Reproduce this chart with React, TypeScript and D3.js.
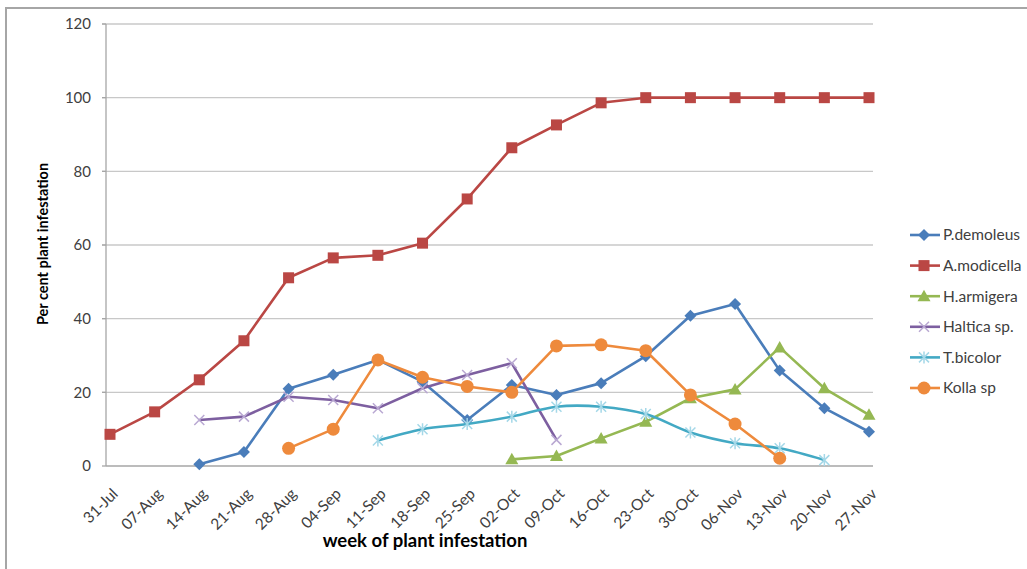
import React from "react";
import * as d3 from "d3";

const weeks = ["31-Jul","07-Aug","14-Aug","21-Aug","28-Aug","04-Sep","11-Sep","18-Sep","25-Sep","02-Oct","09-Oct","16-Oct","23-Oct","30-Oct","06-Nov","13-Nov","20-Nov","27-Nov"];
const yTicks = [0, 20, 40, 60, 80, 100, 120];

const pDemoleus = [null, null, 0.5, 3.8, 21, 24.8, 28.8, 22.9, 12.5, 22, 19.3, 22.5, 29.8, 40.8, 44, 25.9, 15.7, 9.3];
const aModicella = [8.6, 14.7, 23.4, 34, 51.1, 56.5, 57.2, 60.5, 72.5, 86.4, 92.6, 98.6, 100, 100, 100, 100, 100, 100];
const hArmigera = [null, null, null, null, null, null, null, null, null, 1.8, 2.7, 7.5, 12, 18.4, 20.8, 32.2, 21.1, 13.9];
const haltica = [null, null, 12.5, 13.4, 18.8, 17.9, 15.7, 21.1, 24.7, 27.9, 7.1, null, null, null, null, null, null, null];
const tBicolor = [null, null, null, null, null, null, 6.9, 10, 11.4, 13.4, 16.1, 16.1, 14.1, 9.1, 6.2, 4.8, 1.6, null];
const kolla = [null, null, null, null, 4.8, 10, 28.8, 24.1, 21.6, 20, 32.6, 32.9, 31.3, 19.3, 11.4, 2.1, null, null];

const seriesNames = ["P.demoleus", "A.modicella", "H.armigera", "Haltica sp.", "T.bicolor", "Kolla sp"];
const seriesValues = [pDemoleus, aModicella, hArmigera, haltica, tBicolor, kolla];
const seriesColors = ["#4A7DBA", "#BA4744", "#95B853", "#7D5FA0", "#43A9C4", "#EE8A3C"];
const markerColors = ["#4A7DBA", "#BA4744", "#95B853", "#B9A8D2", "#A5D8E8", "#EE8A3C"];
const markerTypes = ["diamond", "square", "triangle", "x", "asterisk", "circle"];
const smooth = [false, false, false, false, true, false];

const FONT = "Lato, 'Open Sans', sans-serif";

function Marker({ type, x, y, color }: { type: string; x: number; y: number; color: string }) {
  switch (type) {
    case "diamond":
      return <path d={`M${x},${y - 6}L${x + 6},${y}L${x},${y + 6}L${x - 6},${y}Z`} fill={color} />;
    case "square":
      return <rect x={x - 5.5} y={y - 5.5} width={11} height={11} fill={color} />;
    case "triangle":
      return <path d={`M${x},${y - 6.5}L${x + 6.5},${y + 5}L${x - 6.5},${y + 5}Z`} fill={color} />;
    case "x":
      return <path d={`M${x - 5},${y - 5}L${x + 5},${y + 5}M${x - 5},${y + 5}L${x + 5},${y - 5}`} stroke={color} strokeWidth={1.5} fill="none" />;
    case "asterisk":
      return <path d={`M${x - 5},${y - 5}L${x + 5},${y + 5}M${x - 5},${y + 5}L${x + 5},${y - 5}M${x},${y - 6}L${x},${y + 6}`} stroke={color} strokeWidth={1.5} fill="none" />;
    case "circle":
    default:
      return <circle cx={x} cy={y} r={6.5} fill={color} />;
  }
}

export default function App() {
  const x = d3.scalePoint<string>().domain(weeks).range([110, 869]);
  const y = d3.scaleLinear().domain([0, 120]).range([466, 24]);
  const plotLeft = 106;
  const plotRight = 873;

  return (
    <svg width={1027} height={569} style={{ position: "absolute", left: 0, top: 0, background: "#fff" }} fontFamily={FONT}>
      <rect x={6} y={8} width={1030} height={580} fill="#fff" stroke="#a6a6a6" strokeWidth={2} />
      {yTicks.map((t) => (
        <g key={t}>
          {t > 0 && <line x1={plotLeft - 4} x2={plotRight} y1={y(t)} y2={y(t)} stroke="#c8c8c8" strokeWidth={1.3} />}
          <line x1={plotLeft - 4} x2={plotLeft} y1={y(t)} y2={y(t)} stroke="#a6a6a6" strokeWidth={1.3} />
          <text x={91} y={y(t)} dy="0.35em" textAnchor="end" fontSize={15} fill="#404040">{t}</text>
        </g>
      ))}
      <line x1={plotLeft} x2={plotLeft} y1={y(120)} y2={y(0)} stroke="#a6a6a6" strokeWidth={1.3} />
      <line x1={plotLeft} x2={plotRight} y1={y(0)} y2={y(0)} stroke="#a6a6a6" strokeWidth={1.3} />
      {weeks.map((w) => (
        <text key={w} transform={`translate(${(x(w) as number) + 1},${487}) rotate(-45)`} dy="0.72em" textAnchor="end" fontSize={15.5} fill="#404040">{w}</text>
      ))}
      <text transform={`translate(48,${244}) rotate(-90)`} textAnchor="middle" fontSize={14.5} fontWeight="bold" fill="#000">Per cent plant infestation</text>
      <text x={425} y={547} textAnchor="middle" fontSize={18.5} fontWeight="bold" fill="#000">week of plant infestation</text>
      {seriesValues.map((vals, i) => {
        const line = d3.line<number | null>()
          .defined((d) => d !== null)
          .x((_, j) => x(weeks[j]) as number)
          .y((d) => y(d as number))
          .curve(smooth[i] ? d3.curveCatmullRom.alpha(0.5) : d3.curveLinear);
        return (
          <g key={seriesNames[i]}>
            <path d={line(vals) || ""} fill="none" stroke={seriesColors[i]} strokeWidth={2.6} strokeLinejoin="round" />
            {vals.map((v, j) => v === null ? null : (
              <Marker key={j} type={markerTypes[i]} x={x(weeks[j]) as number} y={y(v)} color={markerColors[i]} />
            ))}
          </g>
        );
      })}
      {seriesNames.map((n, i) => {
        const ly = 235 + i * 30.6;
        return (
          <g key={n}>
            <line x1={910} x2={940} y1={ly} y2={ly} stroke={seriesColors[i]} strokeWidth={2.6} />
            <Marker type={markerTypes[i]} x={924} y={ly} color={markerColors[i]} />
            <text x={943} y={ly} dy="0.35em" fontSize={15.5} fill="#404040">{n}</text>
          </g>
        );
      })}
    </svg>
  );
}
